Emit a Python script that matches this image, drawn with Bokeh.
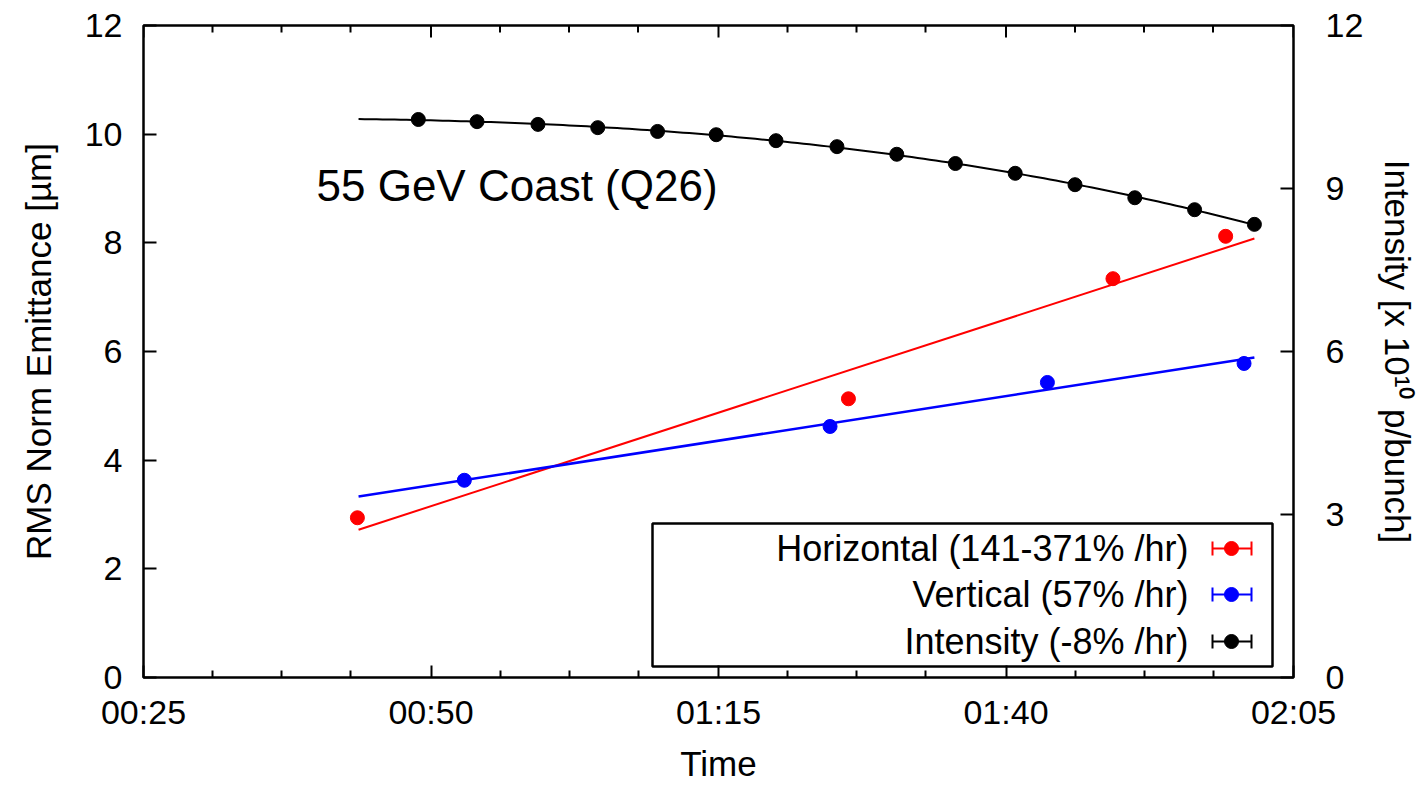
import numpy as np
from bokeh.plotting import figure
from bokeh.models import Range1d, LinearAxis, FixedTicker, Label, BoxAnnotation
from bokeh.embed import file_html
from bokeh.resources import INLINE

# ---------------- data (time in minutes after 00:00) ----------------
intensity_time = [48.9, 54.0, 59.3, 64.5, 69.7, 74.8, 80.0, 85.3, 90.5, 95.6,
                  100.8, 106.0, 111.2, 116.4, 121.6]
intensity_vals = [10.27, 10.23, 10.18, 10.12, 10.05, 9.99, 9.88, 9.77, 9.63, 9.46,
                  9.28, 9.07, 8.83, 8.61, 8.34]
horiz_time = [43.6, 86.3, 109.3, 119.1]
horiz_vals = [2.94, 5.13, 7.34, 8.12]
vert_time = [52.9, 84.7, 103.6, 120.7]
vert_vals = [3.63, 4.62, 5.43, 5.78]
fit_span = [43.7, 121.6]          # time span of the fitted lines
horiz_fit_vals = [2.72, 8.08]
vert_fit_vals = [3.33, 5.89]

x_tick_values = [25, 50, 75, 100, 125]
x_tick_labels = ["00:25", "00:50", "01:15", "01:40", "02:05"]
x_minor_ticks = [31, 37, 43, 56, 62, 68, 81, 87, 93, 106, 112, 118]
y_tick_values = [0, 2, 4, 6, 8, 10, 12]
y2_tick_values = [0, 3, 6, 9, 12]

legend_labels = ["Horizontal (141-371% /hr)", "Vertical (57% /hr)", "Intensity (-8% /hr)"]
legend_colors = ["#ff0000", "#0000ff", "#000000"]

# ---------------- layout ----------------
FONT = "Liberation Sans"
W, H = 1422, 785
FL, FR, FT, FB = 143, 1293, 25, 677
X0, X1, Y0, Y1 = 25, 125, 0, 12


def X(px):
    return X0 + (px - FL) * (X1 - X0) / (FR - FL)


def Y(py):
    return Y0 + (FB - py) * (Y1 - Y0) / (FB - FT)


p = figure(width=W, height=H, x_range=Range1d(X0, X1), y_range=Range1d(Y0, Y1),
           output_backend="svg", toolbar_location=None,
           min_border_left=FL, min_border_right=W - FR,
           min_border_top=FT, min_border_bottom=H - FB)
p.extra_y_ranges = {"y2": Range1d(Y0, Y1)}
p.grid.visible = False
p.outline_line_color = "black"
p.outline_line_width = 2.5
p.background_fill_color = "white"
p.border_fill_color = "white"


def style(ax, major_in, minor_in, size):
    ax.axis_line_color = None
    ax.major_tick_in = major_in
    ax.major_tick_out = 0
    ax.minor_tick_in = minor_in
    ax.minor_tick_out = 0
    ax.major_tick_line_color = "black"
    ax.minor_tick_line_color = "black" if minor_in else None
    ax.major_tick_line_width = 2
    ax.minor_tick_line_width = 2
    ax.major_label_text_font = FONT
    ax.major_label_text_font_size = size
    ax.major_label_text_color = "black"
    ax.axis_label_text_font = FONT
    ax.axis_label_text_font_style = "normal"
    ax.axis_label_text_color = "black"
    ax.axis_label_text_font_size = "35px"


xb = p.xaxis[0]
xb.ticker = FixedTicker(ticks=x_tick_values, minor_ticks=x_minor_ticks)
xb.major_label_overrides = {v: s for v, s in zip(x_tick_values, x_tick_labels)}
style(xb, 12, 7, "34px")
xb.major_label_standoff = 15
xb.axis_label = "Time"
xb.axis_label_standoff = 10

yl = p.yaxis[0]
yl.ticker = FixedTicker(ticks=y_tick_values)
style(yl, 13, 0, "34px")
yl.major_label_standoff = 21
yl.axis_label = "RMS Norm Emittance [µm]"
yl.axis_label_standoff = 24

yr = LinearAxis(y_range_name="y2", ticker=FixedTicker(ticks=y2_tick_values))
style(yr, 13, 0, "34px")
yr.major_label_standoff = 32
yr.axis_label = "Intensity [x 10¹⁰ p/bunch]"
yr.axis_label_standoff = 12
p.add_layout(yr, "right")

# mirrored ticks on the top border
top_len_major = Y(FT) - Y(FT + 12)
top_len_minor = Y(FT) - Y(FT + 7)
p.segment(x0=x_tick_values, x1=x_tick_values, y0=[Y1] * len(x_tick_values),
          y1=[Y1 - top_len_major] * len(x_tick_values), line_color="black", line_width=2)
p.segment(x0=x_minor_ticks, x1=x_minor_ticks, y0=[Y1] * len(x_minor_ticks),
          y1=[Y1 - top_len_minor] * len(x_minor_ticks), line_color="black", line_width=2)

# ---------------- data marks ----------------
coef = np.polyfit(intensity_time, intensity_vals, 3)
tt = np.linspace(fit_span[0], fit_span[1], 150)
p.line(tt, np.polyval(coef, tt), y_range_name="y2", line_color="black", line_width=2)
p.line(fit_span, horiz_fit_vals, line_color="#ff0000", line_width=2)
p.line(fit_span, vert_fit_vals, line_color="#0000ff", line_width=2.5)

p.scatter(horiz_time, horiz_vals, size=14, color="#ff0000")
p.scatter(vert_time, vert_vals, size=14, color="#0000ff")
p.scatter(intensity_time, intensity_vals, y_range_name="y2", size=14, color="black")

# ---------------- annotation ----------------
p.add_layout(Label(x=X(316), y=Y(185), text="55 GeV Coast (Q26)",
                   text_font=FONT, text_font_size="44px", text_color="black",
                   text_baseline="middle", text_align="left"))

# ---------------- legend (symbol on the right, text right-aligned) ----------------
p.add_layout(BoxAnnotation(left=X(652), right=X(1272), top=Y(523), bottom=Y(666),
                           fill_alpha=0, line_color="black", line_alpha=1,
                           line_width=2.5, level="overlay"))
row_center = [548, 594, 641]
for lab, col, rc in zip(legend_labels, legend_colors, row_center):
    p.add_layout(Label(x=X(1188), y=Y(rc), text=lab, text_font=FONT,
                       text_font_size="36px", text_color="black",
                       text_align="right", text_baseline="middle"))
    p.segment(x0=[X(1212)], y0=[Y(rc)], x1=[X(1251)], y1=[Y(rc)], line_color=col, line_width=2)
    p.segment(x0=[X(1212), X(1251)], y0=[Y(rc - 7)] * 2, x1=[X(1212), X(1251)],
              y1=[Y(rc + 7)] * 2, line_color=col, line_width=2)
    p.scatter([X(1231)], [Y(rc)], size=14, color=col)

open("out.html", "w").write(file_html(p, INLINE))
